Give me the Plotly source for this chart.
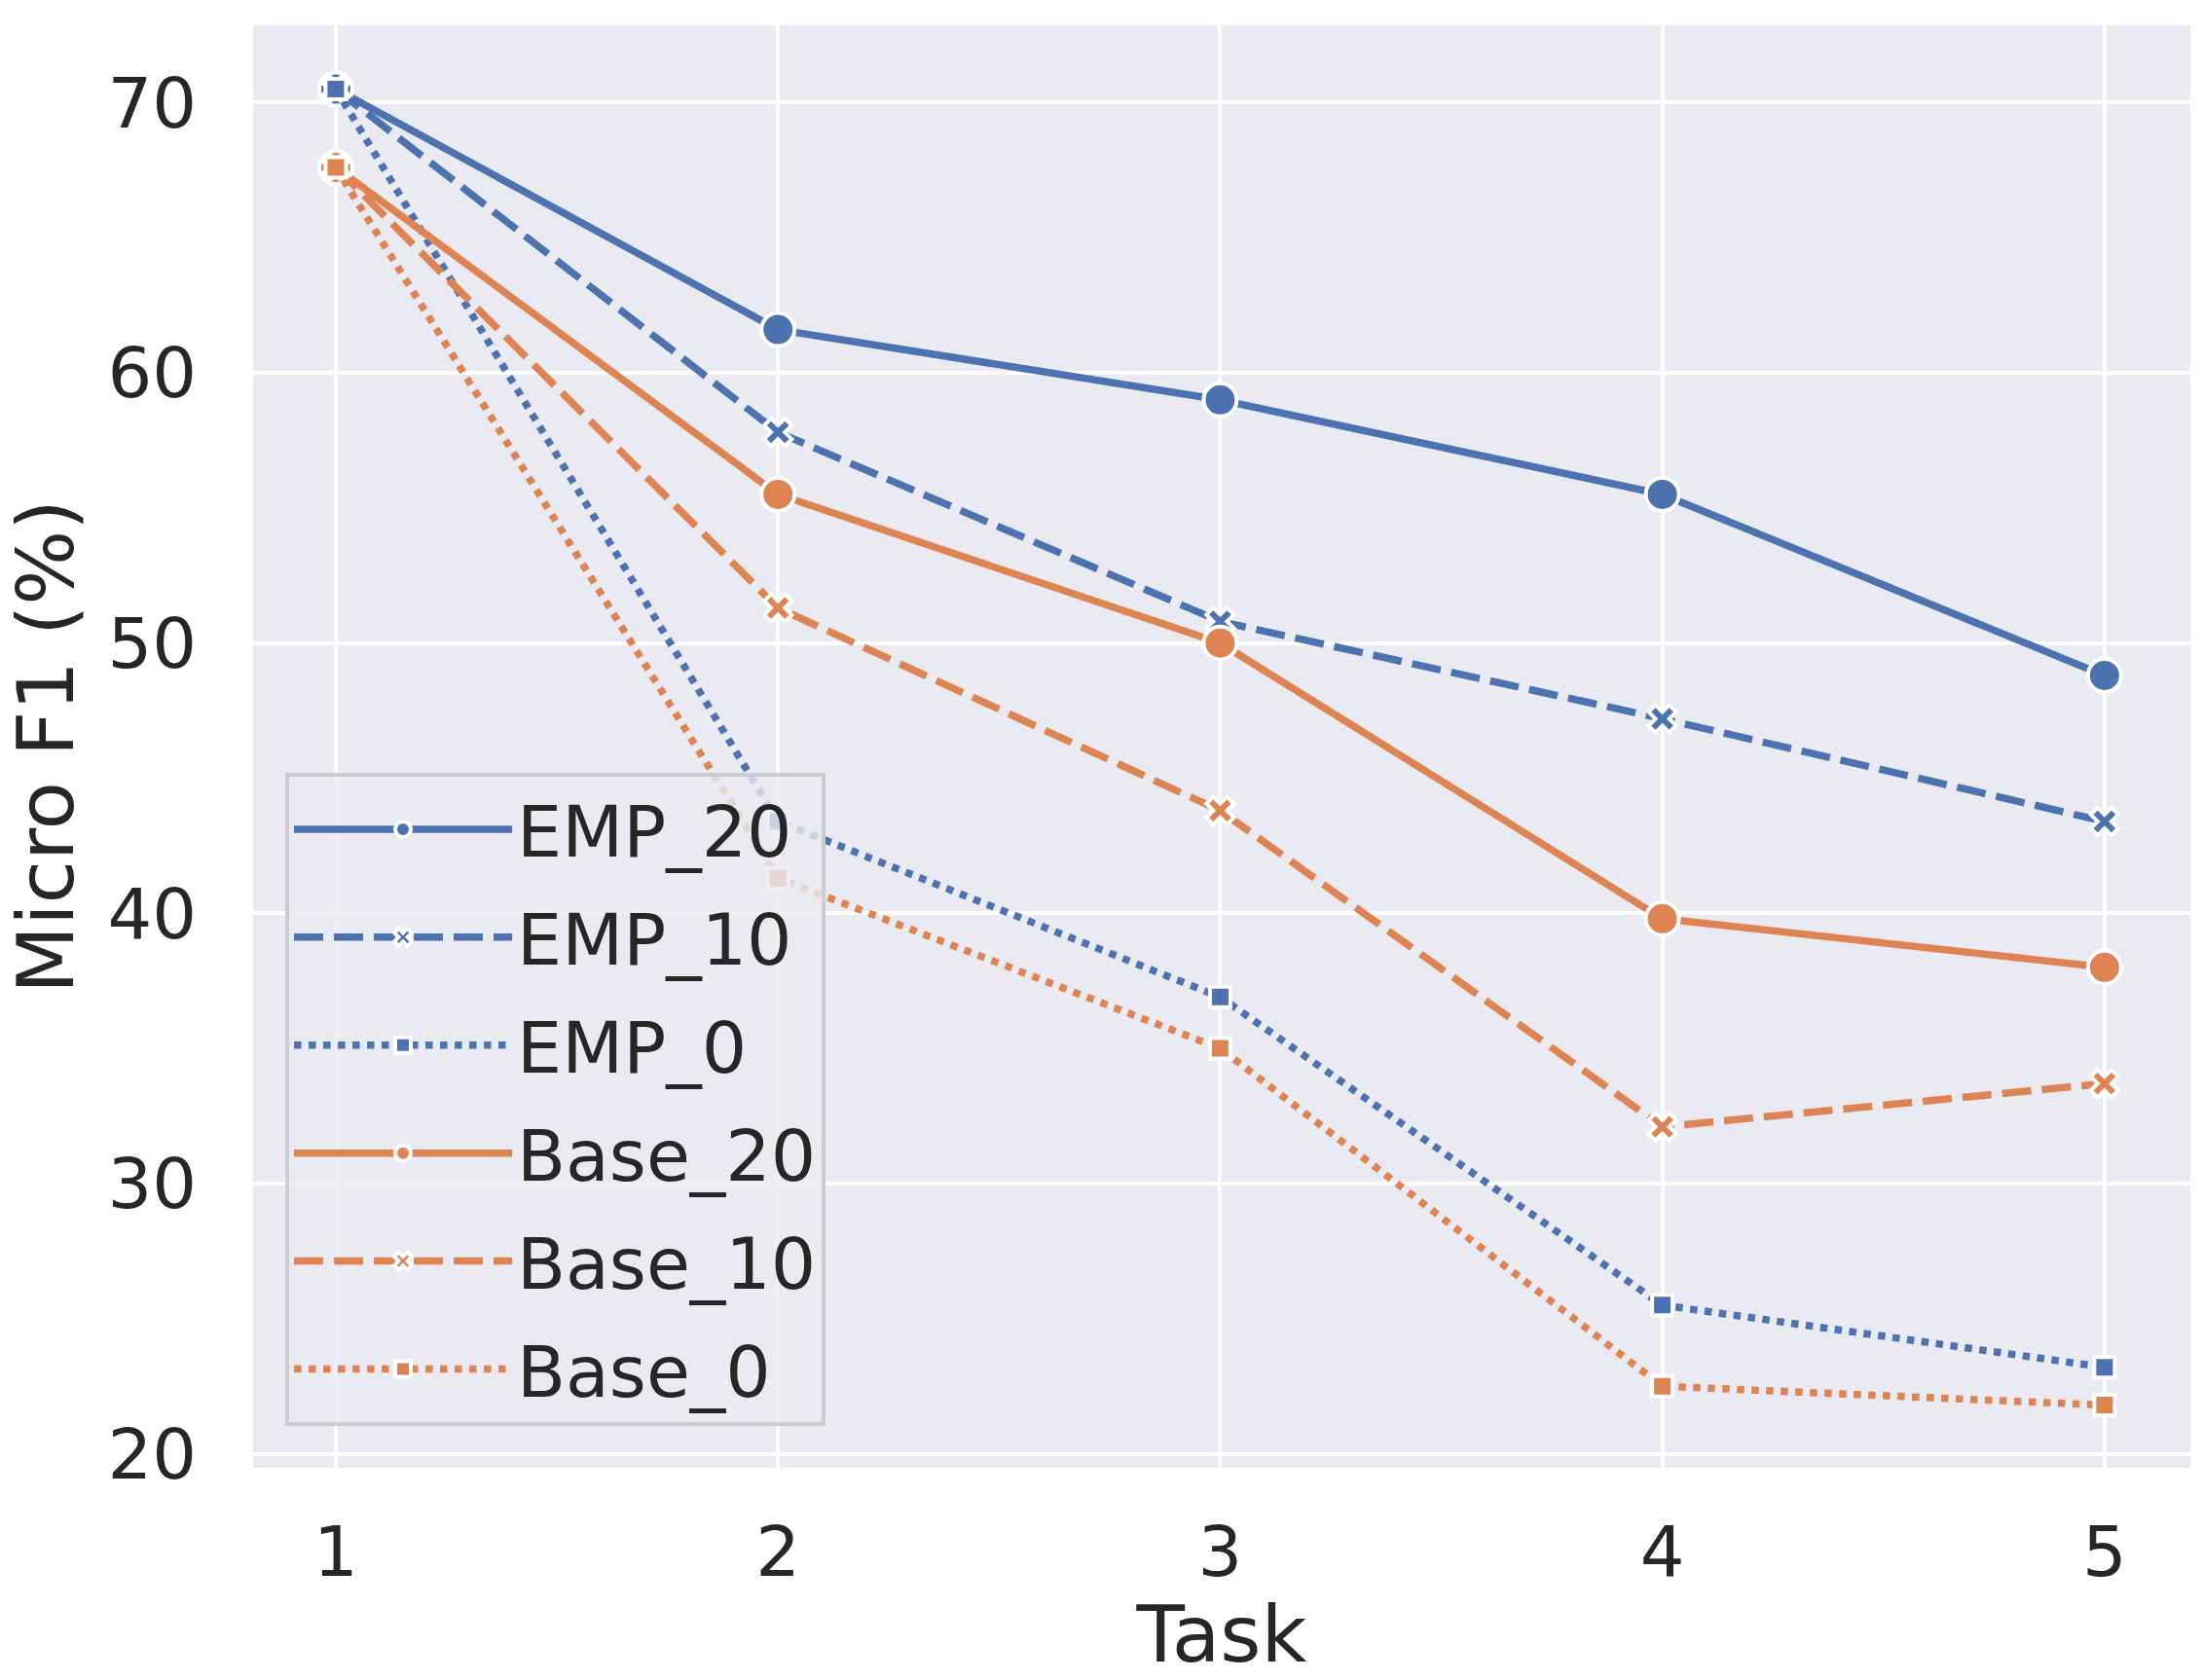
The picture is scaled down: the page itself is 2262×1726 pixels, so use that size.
import plotly.graph_objects as go

tasks = [1, 2, 3, 4, 5]
series_names = ["EMP_20", "EMP_10", "EMP_0", "Base_20", "Base_10", "Base_0"]
emp_20 = [70.5, 61.6, 59.0, 55.5, 48.8]
emp_10 = [70.5, 57.8, 50.8, 47.2, 43.4]
emp_0 = [70.5, 43.4, 36.9, 25.5, 23.2]
base_20 = [67.6, 55.5, 50.0, 39.8, 38.0]
base_10 = [67.6, 51.3, 43.8, 32.1, 33.7]
base_0 = [67.6, 41.3, 35.0, 22.5, 21.8]
y_ticks = [20, 30, 40, 50, 60, 70]

BLUE = "#4C72B0"
ORANGE = "#DD8452"
LW = 7.5
DASHED = "30px,11px"
DOTTED = "7.5px,7.5px"

styles = {
    "EMP_20": (BLUE, "solid", "circle", 34),
    "EMP_10": (BLUE, DASHED, "x", 25),
    "EMP_0": (BLUE, DOTTED, "square", 21),
    "Base_20": (ORANGE, "solid", "circle", 34),
    "Base_10": (ORANGE, DASHED, "x", 25),
    "Base_0": (ORANGE, DOTTED, "square", 21),
}
values = {
    "EMP_20": emp_20, "EMP_10": emp_10, "EMP_0": emp_0,
    "Base_20": base_20, "Base_10": base_10, "Base_0": base_0,
}

fig = go.Figure()
for name in series_names:
    color, dash, symbol, size = styles[name]
    fig.add_trace(go.Scatter(
        x=tasks, y=values[name], name=name, mode="lines+markers",
        legendgroup=name,
        line=dict(color=color, width=LW, dash=dash),
        marker=dict(color=color, symbol=symbol, size=size,
                    line=dict(color="white", width=4)),
    ))

font_color = "#262626"
fig.update_layout(
    width=2262, height=1726,
    margin=dict(l=260, r=12, t=26, b=218),
    paper_bgcolor="white",
    plot_bgcolor="#EAEAF2",
    font=dict(family="DejaVu Sans", size=72, color=font_color),
    showlegend=True,
    legend=dict(
        x=0.0166, y=0.029, xanchor="left", yanchor="bottom",
        bgcolor="rgba(234,234,242,0.8)",
        bordercolor="#CCCCCC", borderwidth=4,
        font=dict(family="DejaVu Sans", size=73, color=font_color),
        tracegroupgap=13,
        itemwidth=224,
    ),
)
fig.update_xaxes(
    range=[0.813, 5.194],
    tickvals=tasks, ticktext=[str(t) for t in tasks],
    showgrid=True, gridcolor="white", gridwidth=3.5,
    zeroline=False, showline=False, ticks="",
    ticklabelstandoff=38,
    tickfont=dict(size=72),
    title=dict(text="Task", standoff=22, font=dict(size=81)),
)
fig.update_yaxes(
    range=[19.48, 72.86],
    tickvals=y_ticks, ticktext=[str(v) for v in y_ticks],
    showgrid=True, gridcolor="white", gridwidth=3.5,
    zeroline=False, showline=False, ticks="",
    ticklabelstandoff=57,
    tickfont=dict(size=72),
    title=dict(text="Micro F1 (%)", standoff=22, font=dict(size=81)),
)

fig.write_html(
    "out.html",
    config={"displayModeBar": False},
    post_script="document.body.style.margin='0';document.body.style.overflow='hidden';",
)
